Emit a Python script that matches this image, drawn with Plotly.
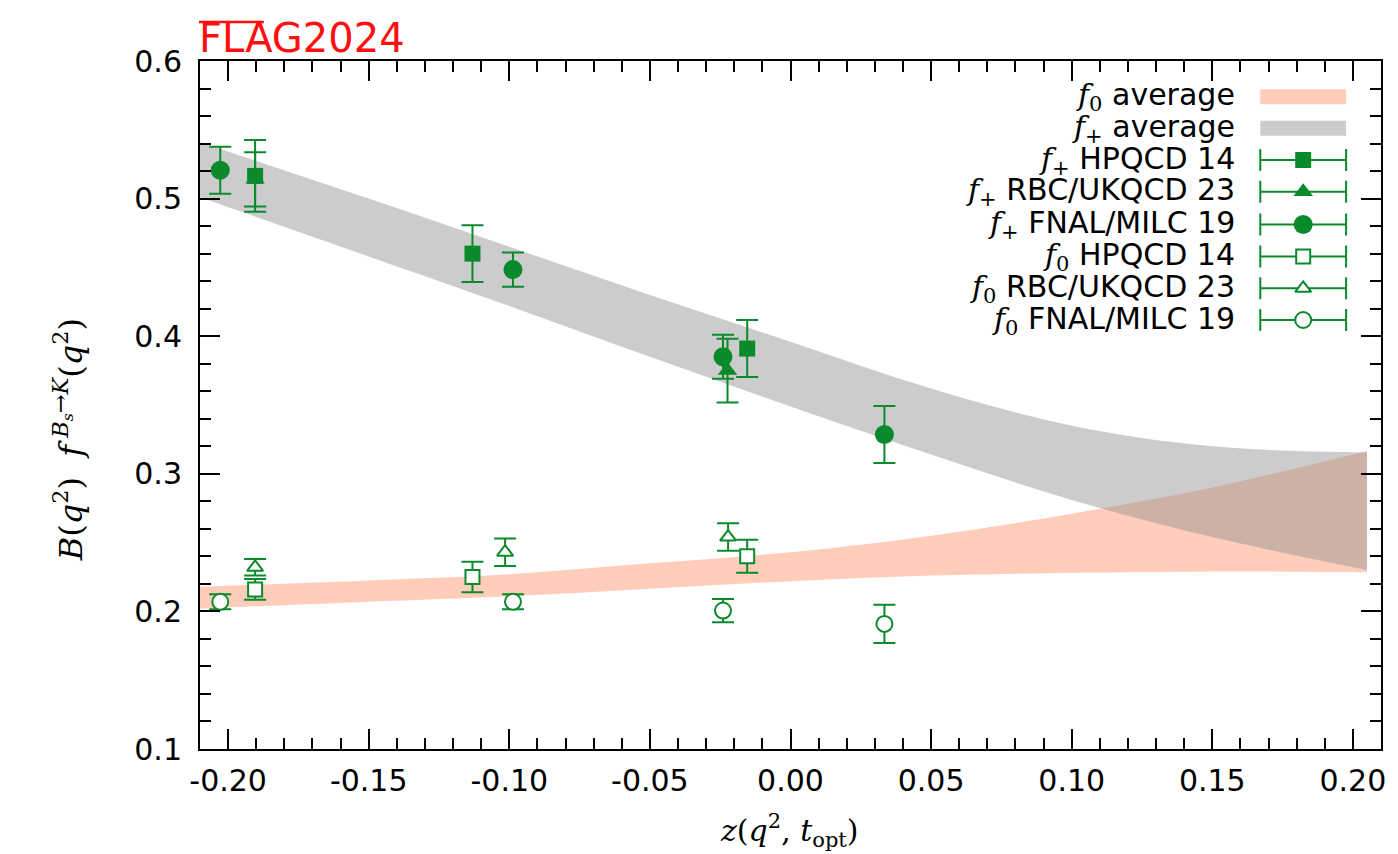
import plotly.graph_objects as go

GREEN = "#0b8a2c"
PINK = "#ffcdb9"
GRAY_LEG = "#cccccc"
GRAY_FILL = "rgba(146,146,146,0.47)"

# ---- averaged form-factor bands (edges sampled along z) ----
band_z = [-0.21, -0.15, -0.10, -0.05, 0.00, 0.05, 0.10, 0.15, 0.205]
fplus_lo = [0.501, 0.458, 0.422, 0.385, 0.349, 0.314, 0.281, 0.254, 0.230]
fplus_hi = [0.541, 0.500, 0.465, 0.430, 0.396, 0.362, 0.335, 0.320, 0.3155]
fzero_lo = [0.202, 0.207, 0.211, 0.2165, 0.222, 0.226, 0.228, 0.229, 0.2285]
fzero_hi = [0.218, 0.2225, 0.227, 0.235, 0.243, 0.255, 0.271, 0.290, 0.3165]

# ---- lattice results ----
hpqcd_z = [-0.1904, -0.1131, -0.0154]
hpqcd_fp = [0.5165, 0.460, 0.391]
hpqcd_fp_err = [0.026, 0.0207, 0.0207]
hpqcd_f0 = [0.216, 0.225, 0.240]
hpqcd_f0_err = [0.0075, 0.011, 0.012]

rbc_fp_z = [-0.1904, -0.0224]
rbc_fp = [0.514, 0.375]
rbc_fp_err = [0.0197, 0.0232]
rbc_f0_z = [-0.1904, -0.1015, -0.0222]
rbc_f0 = [0.232, 0.243, 0.254]
rbc_f0_err = [0.006, 0.010, 0.010]

fnal_z = [-0.2028, -0.0987, -0.0240, 0.0334]
fnal_fp = [0.5206, 0.4484, 0.385, 0.3286]
fnal_fp_err = [0.017, 0.0125, 0.016, 0.0207]
fnal_f0 = [0.207, 0.207, 0.2006, 0.1909]
fnal_f0_err = [0.0055, 0.0055, 0.0085, 0.0139]

x_ticks = [-0.20, -0.15, -0.10, -0.05, 0.00, 0.05, 0.10, 0.15, 0.20]
x_tick_labels = ["-0.20", "-0.15", "-0.10", "-0.05", "0.00", "0.05", "0.10", "0.15", "0.20"]
y_ticks = [0.1, 0.2, 0.3, 0.4, 0.5, 0.6]
y_tick_labels = ["0.1", "0.2", "0.3", "0.4", "0.5", "0.6"]

# minor tick positions: every 0.01 in z, every 0.02 in the form factor
x_minor = [round(0.01 * i, 2) for i in range(-21, 22)]
y_minor = [round(0.02 * i, 2) for i in range(5, 31)]

X_RANGE = [-0.21, 0.21]
Y_RANGE = [0.1, 0.6]

MATH = "DejaVu Serif"
SANS = "DejaVu Sans"

fig = go.Figure()

# f0 band (opaque), then f+ band (translucent on top)
fig.add_trace(go.Scatter(x=band_z, y=fzero_lo, mode="lines", line=dict(width=0, shape="spline"),
                         hoverinfo="skip"))
fig.add_trace(go.Scatter(x=band_z, y=fzero_hi, mode="lines", line=dict(width=0, shape="spline"),
                         fill="tonexty", fillcolor=PINK, hoverinfo="skip"))
fig.add_trace(go.Scatter(x=band_z, y=fplus_lo, mode="lines", line=dict(width=0, shape="spline"),
                         hoverinfo="skip"))
fig.add_trace(go.Scatter(x=band_z, y=fplus_hi, mode="lines", line=dict(width=0, shape="spline"),
                         fill="tonexty", fillcolor=GRAY_FILL, hoverinfo="skip"))


def err(arr):
    return dict(type="data", array=arr, visible=True, color=GREEN, thickness=2, width=11)


def filled(symbol, size):
    return dict(symbol=symbol, size=size, color=GREEN, line=dict(width=0))


def hollow(symbol, size):
    return dict(symbol=symbol, size=size, color="white", line=dict(color=GREEN, width=2))


series = [
    (hpqcd_z, hpqcd_fp, hpqcd_fp_err, filled("square", 16)),
    (rbc_fp_z, rbc_fp, rbc_fp_err, filled("triangle-up", 17)),
    (fnal_z, fnal_fp, fnal_fp_err, filled("circle", 19)),
    (hpqcd_z, hpqcd_f0, hpqcd_f0_err, hollow("square", 14)),
    (rbc_f0_z, rbc_f0, rbc_f0_err, hollow("triangle-up", 14)),
    (fnal_z, fnal_f0, fnal_f0_err, hollow("circle", 16)),
]
for xs, ys, es, mk in series:
    fig.add_trace(go.Scatter(x=xs, y=ys, mode="markers", marker=mk, error_y=err(es)))

# ---- key in the upper right corner (positions given in page pixels) ----
L, R, T, B = 200, 1384, 61, 749
W, H = R - L, B - T


def px(x):
    return (x - L) / W


def py(y):
    return (B - y) / H


def key_x(x):
    return X_RANGE[0] + px(x) * (X_RANGE[1] - X_RANGE[0])


def key_y(y):
    return Y_RANGE[0] + py(y) * (Y_RANGE[1] - Y_RANGE[0])


def fsym(sub):
    return ("<span style=\"font-family:'%s'\"><i>f</i><sub>%s</sub></span>" % (MATH, sub))


key_rows = [96.7, 128.3, 160, 191.7, 224.5, 256.5, 288.3, 320]
key_labels = [
    fsym("0") + " average",
    fsym("+") + " average",
    fsym("+") + " HPQCD 14",
    fsym("+") + " RBC/UKQCD 23",
    fsym("+") + " FNAL/MILC 19",
    fsym("0") + " HPQCD 14",
    fsym("0") + " RBC/UKQCD 23",
    fsym("0") + " FNAL/MILC 19",
]
annotations = []
for row, lab in zip(key_rows, key_labels):
    annotations.append(dict(x=px(1240), y=py(row), xref="paper", yref="paper", text=lab,
                            showarrow=False, xanchor="right", yanchor="middle",
                            font=dict(family=SANS, size=30, color="black")))

shapes = []
for row, col in zip(key_rows[:2], [PINK, GRAY_LEG]):
    shapes.append(dict(type="rect", xref="paper", yref="paper", x0=px(1263), x1=px(1349),
                       y0=py(row + 7.5), y1=py(row - 7.5), fillcolor=col, line=dict(width=0)))

key_markers = [s[3] for s in series]
half_len = 43 / W * (X_RANGE[1] - X_RANGE[0])
for row, mk in zip(key_rows[2:], key_markers):
    fig.add_trace(go.Scatter(x=[key_x(1306)], y=[key_y(row)], mode="markers", marker=mk,
                             error_x=dict(type="constant", value=half_len, color=GREEN,
                                          thickness=2, width=11)))

# titles
annotations.append(dict(x=px(791), y=py(830), xref="paper", yref="paper", showarrow=False,
                        xanchor="center", yanchor="middle",
                        text="<i>z</i>(<i>q</i><sup>2</sup>, <i>t</i><sub>opt</sub>)",
                        font=dict(family=MATH, size=30, color="black")))
annotations.append(dict(x=px(68), y=py(440), xref="paper", yref="paper", showarrow=False,
                        xanchor="center", yanchor="middle", textangle=-90,
                        text="<i>B</i>(<i>q</i><sup>2</sup>)  <i>f</i><sup> <i>B<sub>s</sub></i>\u2192<i>K</i></sup>(<i>q</i><sup>2</sup>)",
                        font=dict(family=MATH, size=32, color="black")))
annotations.append(dict(x=px(197), y=py(38), xref="paper", yref="paper", showarrow=False,
                        xanchor="left", yanchor="middle", text="FLAG2024",
                        font=dict(family=SANS, size=40, color="#ff1010")))
shapes.append(dict(type="line", xref="paper", yref="paper", x0=px(199), x1=px(264),
                   y0=py(22), y1=py(22), line=dict(color="#ff1010", width=2.5)))

axis_common = dict(showline=True, linecolor="black", linewidth=2, mirror="allticks",
                   ticks="inside", ticklen=20, tickwidth=2, tickcolor="black",
                   showgrid=False, zeroline=False,
                   tickfont=dict(family=SANS, size=30, color="black"))

fig.update_layout(
    width=1398, height=854,
    margin=dict(l=L, r=1398 - R, t=T, b=854 - B),
    plot_bgcolor="white", paper_bgcolor="white",
    showlegend=False,
    xaxis=dict(range=X_RANGE, tickmode="array", tickvals=x_ticks, ticktext=x_tick_labels,
               ticklabelstandoff=4,
               minor=dict(tickmode="array", tickvals=x_minor, ticks="inside", ticklen=11,
                          tickwidth=2, tickcolor="black", showgrid=False),
               **axis_common),
    yaxis=dict(range=Y_RANGE, tickmode="array", tickvals=y_ticks, ticktext=y_tick_labels,
               ticklabelstandoff=10,
               minor=dict(tickmode="array", tickvals=y_minor, ticks="inside", ticklen=11,
                          tickwidth=2, tickcolor="black", showgrid=False),
               **axis_common),
    annotations=annotations,
    shapes=shapes,
)

fig.write_html("out.html")
